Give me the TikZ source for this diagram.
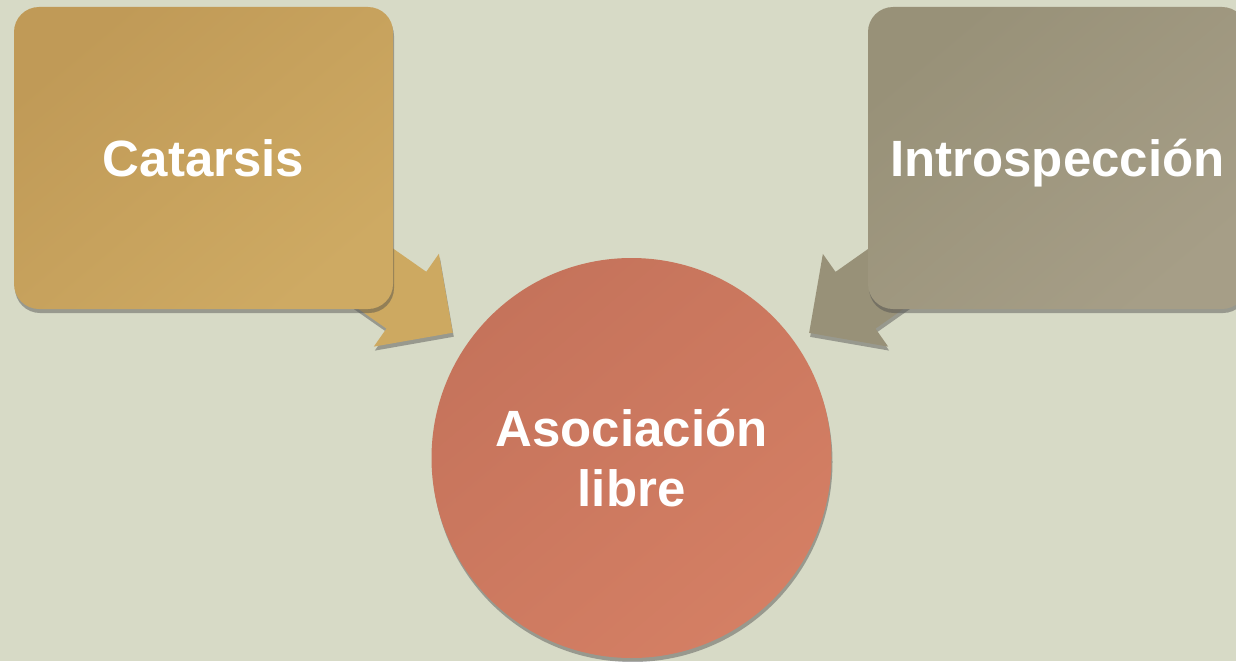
\documentclass[tikz,border=0pt]{standalone}
\usepackage{fontspec}
\setmainfont{Liberation Sans}
\usepackage{tikz}
\usetikzlibrary{shapes.arrows}
\usetikzlibrary{shadows}
\usepackage{color}
\definecolor{dsBack}{RGB}{215, 218, 198}
\definecolor{dsGold}{RGB}{192, 154, 87}
\definecolor{dsGoldLight}{RGB}{206, 170, 99}
\definecolor{dsGoldArrow}{RGB}{205, 169, 97}
\definecolor{dsGray}{RGB}{152, 145, 120}
\definecolor{dsGrayLight}{RGB}{166, 158, 135}
\definecolor{dsRust}{RGB}{197, 115, 91}
\definecolor{dsRustLight}{RGB}{212, 127, 100}

\pgfdeclarelayer{grund}
\pgfdeclarelayer{pfeile}
\pgfsetlayers{grund,pfeile,main}

\begin{document}
\begin{tikzpicture} [
    x=1pt, y=-1pt,
    softshadow/.style = { drop shadow={shadow xshift=1pt, shadow yshift=-4pt,
                        opacity=0.45, fill=black!70}},
    block/.style    = { rectangle, rounded corners=25pt, softshadow,
                        minimum width=379pt, minimum height=302pt, inner sep=0pt,
                        text=white, text height=36.5pt, text depth=0pt,
                        font=\bfseries\fontsize{51}{60}\selectfont},
    disc/.style     = { circle, softshadow, minimum size=400pt,
                        top color=dsRust, bottom color=dsRustLight, shading angle=40,
                        inner sep=0pt, text=white, align=center,
                        font=\bfseries\fontsize{51}{60}\selectfont},
    flowarrow/.style = { single arrow, single arrow head extend=22pt,
                        text height=69pt, text depth=0pt, text width=0pt,
                        minimum width=113pt, minimum height=156pt,
                        inner sep=0pt, softshadow},
  ]

%Hintergrund
  \begin{pgfonlayer}{grund}
   \fill[dsBack] (0,0) rectangle (1236,661);
  \end{pgfonlayer}
  \useasboundingbox (0,0) rectangle (1236,661);

%Knoten
  \node [block, top color=dsGold, bottom color=dsGoldLight, shading angle=40]
        (catarsis) at (203.5,158) {Catarsis};
  \node [block, top color=dsGray, bottom color=dsGrayLight, shading angle=40]
        (introspeccion) at (1057.5,158) {Introspección};
  \node [disc] (asociacion) at (631.5,458) {Asociación\\libre};

%Pfeile (hinter den Knoten)
  \begin{pgfonlayer}{pfeile}
   \path [allow upside down] (catarsis.center) -- node [flowarrow, fill=dsGoldArrow,
          sloped, pos=0.40] (pfeilL) {} (asociacion.center);
   \path [allow upside down] (introspeccion.center) -- node [flowarrow, fill=dsGray,
          sloped, pos=0.40] (pfeilR) {} (asociacion.center);
  \end{pgfonlayer}
\end{tikzpicture}
\end{document}
